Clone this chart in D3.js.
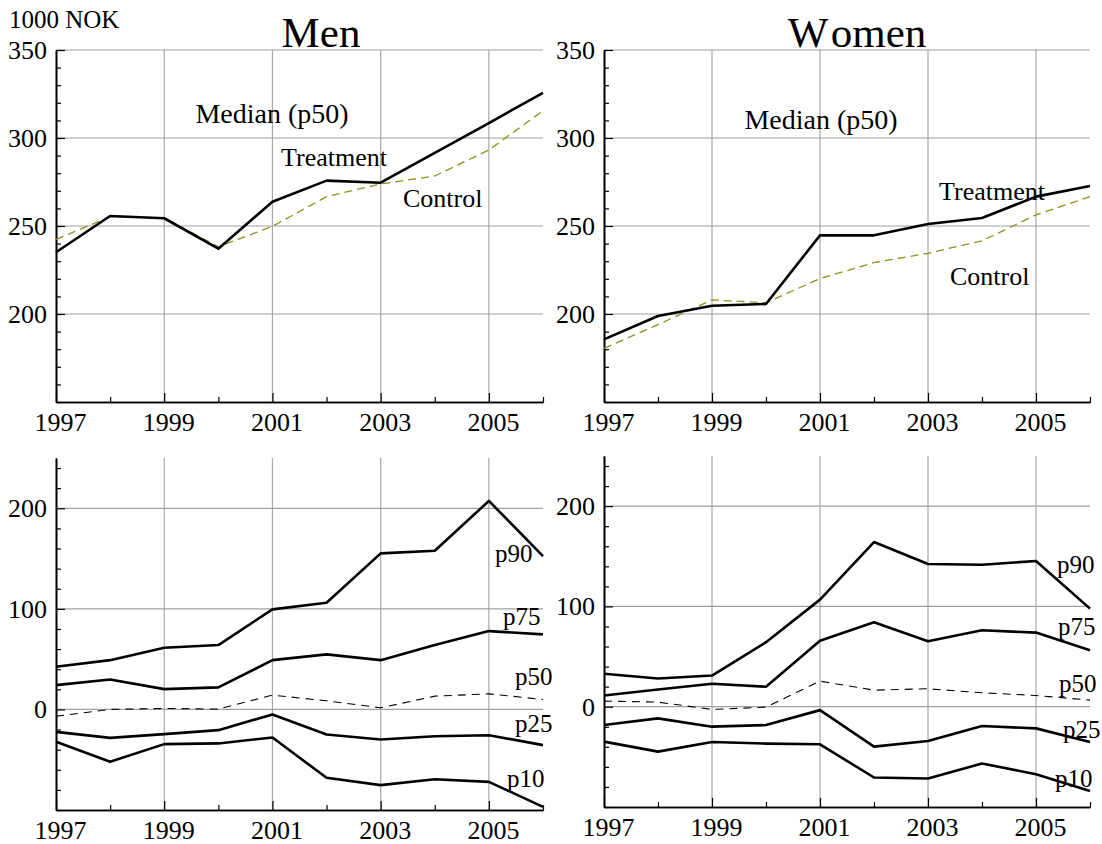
<!DOCTYPE html>
<html>
<head>
<meta charset="utf-8">
<script src="https://cdn.jsdelivr.net/npm/d3@7"></script>
<style>
  body { margin: 0; background: #fff; }
  svg { display: block; }
  text { font-family: "Liberation Serif", "Times New Roman", serif; fill: #000; }
</style>
</head>
<body>
<svg id="chart" width="1102" height="844"></svg>
<script>
// data (1000 NOK)
var years = [1997, 1998, 1999, 2000, 2001, 2002, 2003, 2004, 2005, 2006];
var yearLabels = [1997, 1999, 2001, 2003, 2005];

var menTreatment   = [235.1, 255.7, 254.4, 237.1, 263.8, 275.8, 274.6, 291.6, 308.5, 325.7];
var menControl     = [242.4, 255.3, 254.6, 238.2, 249.8, 266.7, 273.9, 278.4, 293.2, 315.5];
var womenTreatment = [185.6, 198.9, 204.7, 205.7, 244.7, 244.7, 251.1, 254.5, 266.7, 272.7];
var womenControl   = [180.5, 194.0, 208.0, 206.4, 220.1, 229.2, 234.5, 241.6, 256.3, 266.7];

// differences treatment - control by percentile
var menP90 = [42.4, 49.0, 61.3, 64.0, 99.5, 106.0, 155.2, 157.8, 207.3, 152.5];
var menP75 = [24.2, 29.8, 20.2, 21.9, 49.0, 54.7, 49.0, 64.0, 77.9, 74.6];
var menP50 = [-6.7, 0.0, 1.0, 0.3, 14.2, 8.6, 1.6, 13.2, 15.5, 9.9];
var menP25 = [-22.3, -28.3, -24.6, -20.6, -5.0, -24.9, -29.9, -26.6, -25.6, -35.5];
var menP10 = [-32.2, -52.1, -34.5, -33.8, -27.9, -68.0, -75.3, -69.4, -72.0, -96.9];

var womenP90 = [32.8, 28.2, 31.1, 64.3, 106.8, 164.2, 142.3, 141.6, 145.3, 97.8];
var womenP75 = [11.2, 17.2, 22.9, 19.9, 65.7, 84.2, 65.3, 76.2, 73.9, 56.3];
var womenP50 = [5.6, 4.6, -2.7, -0.4, 25.5, 16.5, 17.9, 13.9, 11.2, 6.6];
var womenP25 = [-18.3, -11.6, -19.9, -18.3, -3.4, -39.8, -34.2, -19.3, -21.6, -35.2];
var womenP10 = [-34.8, -44.8, -35.2, -36.8, -37.5, -70.6, -71.6, -56.7, -67.3, -84.0];

var topYTicks = [200, 250, 300, 350];
var bottomYTicks = [0, 100, 200];

var svg = d3.select("#chart");

var makePanel = function(box, yDomain, majorY, minorStep) {
  var g = svg.append("g").attr("transform", "translate(" + box.left + "," + box.top + ")");
  var w = box.right - box.left, h = box.bottom - box.top;
  var x = d3.scaleLinear().domain([1997, 2006]).range([0, w]);
  var y = d3.scaleLinear().domain(yDomain).range([h, 0]);

  // grid
  g.selectAll(".vgrid").data(yearLabels.slice(1)).enter().append("line")
    .attr("x1", function(d) { return x(d); }).attr("x2", function(d) { return x(d); })
    .attr("y1", 0).attr("y2", h)
    .style("stroke", "#a8a8a8").style("stroke-width", 1.2);
  g.selectAll(".hgrid").data(majorY).enter().append("line")
    .attr("x1", 0).attr("x2", w)
    .attr("y1", function(d) { return y(d); }).attr("y2", function(d) { return y(d); })
    .style("stroke", "#a0a0a0").style("stroke-width", 1.2);

  // y axis: minor then major
  var minor = d3.range(yDomain[0], yDomain[1] + 0.1, minorStep).filter(function(v) { return majorY.indexOf(v) < 0; });
  g.append("g").call(d3.axisLeft(y).tickValues(minor).tickSize(-5).tickSizeOuter(0).tickFormat(""));
  g.append("g").call(d3.axisLeft(y).tickValues(majorY).tickSize(-9).tickSizeOuter(0).tickPadding(9));

  // x axis
  var minorX = years.filter(function(v) { return yearLabels.indexOf(v) < 0; });
  g.append("g").attr("transform", "translate(0," + h + ")")
    .call(d3.axisBottom(x).tickValues(minorX).tickSize(-5).tickSizeOuter(0).tickFormat(""));
  var xa = g.append("g").attr("transform", "translate(0," + h + ")")
    .call(d3.axisBottom(x).tickValues(yearLabels).tickSize(-9).tickSizeOuter(0).tickPadding(11).tickFormat(d3.format("d")));
  xa.selectAll("text").attr("dx", 4);

  g.selectAll(".domain").style("stroke", "#000").style("stroke-width", 1.6);
  g.selectAll(".tick line").style("stroke", "#000").style("stroke-width", 1.2);
  g.selectAll(".tick text").style("font-family", "Liberation Serif").style("font-size", "26px").style("fill", "#000");

  return {g: g, x: x, y: y};
};

var drawLine = function(p, values, stroke, width, dash) {
  var line = d3.line()
    .x(function(d, i) { return p.x(years[i]); })
    .y(function(d) { return p.y(d); });
  p.g.append("path").datum(values)
    .attr("d", line)
    .style("fill", "none")
    .style("stroke", stroke)
    .style("stroke-width", width)
    .style("stroke-dasharray", dash || null)
    .style("stroke-linejoin", "round");
};

var label = function(txt, x, y, size, anchor) {
  return svg.append("text").attr("x", x).attr("y", y)
    .style("font-size", size + "px")
    .attr("text-anchor", anchor || "start")
    .text(txt);
};

// ===== top panels: median levels =====
var menTop = makePanel({left: 56, right: 543, top: 50, bottom: 402}, [150, 350], topYTicks, 10);
drawLine(menTop, menControl, "#8f8f1e", 1.3, "8,5");
drawLine(menTop, menTreatment, "#000", 2.6);

var womenTop = makePanel({left: 604, right: 1090, top: 50, bottom: 402}, [150, 350], topYTicks, 10);
drawLine(womenTop, womenControl, "#8f8f1e", 1.3, "8,5");
drawLine(womenTop, womenTreatment, "#000", 2.6);

// ===== bottom panels: percentile differences =====
var menBot = makePanel({left: 56, right: 543, top: 458, bottom: 810}, [-100, 250], bottomYTicks, 20);
[menP90, menP75, menP25, menP10].forEach(function(s) { drawLine(menBot, s, "#000", 2.6); });
drawLine(menBot, menP50, "#000", 1.1, "8,6");

var womenBot = makePanel({left: 604, right: 1090, top: 456, bottom: 807}, [-100, 250], bottomYTicks, 20);
[womenP90, womenP75, womenP25, womenP10].forEach(function(s) { drawLine(womenBot, s, "#000", 2.6); });
drawLine(womenBot, womenP50, "#000", 1.1, "8,6");

// titles and notes
label("1000 NOK", 9, 28, 25);
label("Men", 321, 47, 43, "middle");
var wt = svg.append("text").attr("x", 857).attr("y", 47)
  .style("font-size", "43px").attr("text-anchor", "middle");
wt.append("tspan").text("W");
wt.append("tspan").attr("dx", 6).text("omen");

label("Median (p50)", 272, 123, 28, "middle");
label("Treatment", 281, 166, 26);
label("Control", 403, 207, 26);

label("Median (p50)", 821, 129, 28, "middle");
label("Treatment", 939, 200, 26);
label("Control", 950, 285, 26);

var pNames = ["p90", "p75", "p50", "p25", "p10"];
var menPos = [[495, 562], [503, 625], [515, 685], [515, 732], [507, 787]];
var womenPos = [[1057, 573], [1058, 635], [1059, 692], [1063, 738], [1055, 787]];
pNames.forEach(function(n, i) {
  label(n, menPos[i][0], menPos[i][1], 25);
  label(n, womenPos[i][0], womenPos[i][1], 25);
});
</script>
</body>
</html>
